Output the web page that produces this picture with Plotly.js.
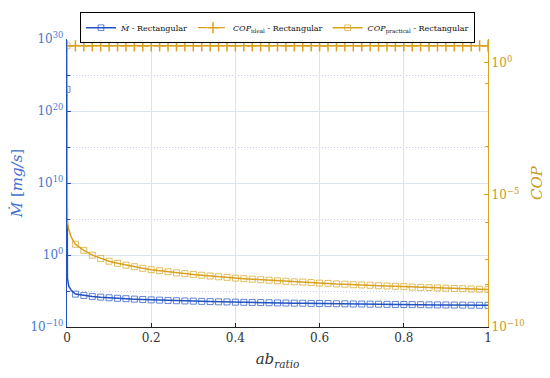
<!DOCTYPE html>
<html>
<head>
<meta charset="utf-8">
<script src="https://cdn.plot.ly/plotly-3.0.1.min.js"></script>
<style>html,body{margin:0;padding:0;background:#fff;}#chart{width:550px;height:378px;}</style>
</head>
<body>
<div id="chart"></div>
<script>
// ab_ratio sample points (markers every 0.02)
var abRatio = [0,0.02,0.04,0.06,0.08,0.10,0.12,0.14,0.16,0.18,0.20,0.22,0.24,0.26,0.28,0.30,0.32,0.34,0.36,0.38,0.40,
  0.42,0.44,0.46,0.48,0.50,0.52,0.54,0.56,0.58,0.60,0.62,0.64,0.66,0.68,0.70,0.72,0.74,0.76,0.78,0.80,
  0.82,0.84,0.86,0.88,0.90,0.92,0.94,0.96,0.98,1.00];
// extra line-only points close to zero
var abRatioFine = [0.001,0.004,0.01];

// Mass flow rate Mdot [mg/s]
var mdot = [1e23,3.72e-6,2.40e-6,1.78e-6,1.41e-6,1.15e-6,9.77e-7,8.51e-7,7.41e-7,6.61e-7,5.89e-7,
  5.37e-7,4.90e-7,4.47e-7,4.17e-7,3.89e-7,3.63e-7,3.39e-7,3.16e-7,3.02e-7,2.82e-7,
  2.69e-7,2.57e-7,2.45e-7,2.34e-7,2.24e-7,2.14e-7,2.04e-7,2.00e-7,1.91e-7,1.82e-7,
  1.78e-7,1.70e-7,1.66e-7,1.58e-7,1.55e-7,1.48e-7,1.45e-7,1.41e-7,1.35e-7,1.32e-7,
  1.29e-7,1.26e-7,1.20e-7,1.17e-7,1.15e-7,1.12e-7,1.10e-7,1.07e-7,1.05e-7,1.02e-7];
var mdotFine = [6.3e-4,5.0e-5,1.26e-5];

// COP ideal
var copIdeal = [4.4,4.4,4.4,4.4,4.4,4.4,4.4,4.4,4.4,4.4,4.4,4.4,4.4,4.4,4.4,4.4,4.4,4.4,4.4,4.4,4.4,
  4.4,4.4,4.4,4.4,4.4,4.4,4.4,4.4,4.4,4.4,4.4,4.4,4.4,4.4,4.4,4.4,4.4,4.4,4.4,4.4,
  4.4,4.4,4.4,4.4,4.4,4.4,4.4,4.4,4.4,4.4];

// COP practical
var copPractical = [4.4,1.35e-7,7.94e-8,5.25e-8,3.89e-8,3.09e-8,2.57e-8,2.19e-8,1.91e-8,1.66e-8,1.48e-8,
  1.35e-8,1.23e-8,1.12e-8,1.05e-8,9.77e-9,9.12e-9,8.51e-9,7.94e-9,7.59e-9,7.08e-9,
  6.76e-9,6.46e-9,6.17e-9,5.89e-9,5.62e-9,5.37e-9,5.13e-9,5.01e-9,4.79e-9,4.57e-9,
  4.47e-9,4.27e-9,4.17e-9,3.98e-9,3.89e-9,3.80e-9,3.63e-9,3.55e-9,3.47e-9,3.39e-9,
  3.24e-9,3.16e-9,3.09e-9,3.02e-9,2.95e-9,2.88e-9,2.82e-9,2.75e-9,2.69e-9,2.63e-9];
var copPracticalFine = [1.0e-6,5.0e-7,2.5e-7];

var leftTicks = [1e-10,1,1e10,1e20,1e30];
var leftTickText = ['10<sup>−10</sup>','10<sup>0</sup>','10<sup>10</sup>','10<sup>20</sup>','10<sup>30</sup>'];
var rightTicks = [1e-10,1e-5,1];
var rightTickText = ['10<sup>−10</sup>','10<sup>−5</sup>','10<sup>0</sup>'];
var rightMinorTicks = [0.166, 6.9e-4, 9.1e-7, 3.6e-8, 4.2e-9];

var BLUE = '#2152c4';
var GOLD = '#d9a21e';
var FONT = 'DejaVu Serif';

function merge(xs, ys, xf, yf) {
  var X = [xs[0]].concat(xf, xs.slice(1));
  var Y = [ys[0]].concat(yf, ys.slice(1));
  var S = [6].concat(xf.map(function(){return 0;}), xs.slice(1).map(function(){return 6;}));
  return {x: X, y: Y, s: S};
}
var m1 = merge(abRatio, mdot, abRatioFine, mdotFine);
var m3 = merge(abRatio, copPractical, abRatioFine, copPracticalFine);

var traces = [
  {x: m1.x, y: m1.y, yaxis: 'y', mode: 'lines+markers', name: '<i>Ṁ</i> - Rectangular',
   line: {color: BLUE, width: 1.5},
   marker: {symbol: 'square-open', size: m1.s, color: BLUE, line: {width: 1, color: BLUE}}},
  {x: abRatio, y: copIdeal, yaxis: 'y2', mode: 'lines+markers', name: '<i>COP</i><sub>ideal</sub> - Rectangular',
   line: {color: GOLD, width: 1.3, dash: 'dash'},
   marker: {symbol: 'cross-thin-open', size: 8, color: GOLD, line: {width: 1.5, color: GOLD}}},
  {x: m3.x, y: m3.y, yaxis: 'y2', mode: 'lines+markers', name: '<i>COP</i><sub>practical</sub> - Rectangular',
   line: {color: GOLD, width: 1.5},
   marker: {symbol: 'square-open', size: m3.s, color: GOLD, line: {width: 1, color: GOLD}}}
];

var layout = {
  width: 550, height: 378,
  margin: {l: 67, r: 62, t: 37, b: 51},
  paper_bgcolor: '#fff', plot_bgcolor: '#fff',
  font: {family: FONT, size: 12, color: '#222'},
  showlegend: true,
  legend: {orientation: 'h', x: 0.5, xanchor: 'center', y: 1.093, yanchor: 'top',
           bgcolor: '#fff', bordercolor: '#000', borderwidth: 1,
           font: {family: FONT, size: 8, color: '#111'}, itemwidth: 30, tracegroupgap: 0},
  xaxis: {range: [0, 1], tickvals: [0, 0.2, 0.4, 0.6, 0.8, 1], ticktext: ['0','0.2','0.4','0.6','0.8','1'],
          ticks: 'inside', ticklen: 4, tickcolor: '#222', showline: true, linecolor: '#222', linewidth: 1,
          showgrid: true, gridcolor: '#e2e2e2', zeroline: false,
          tickfont: {family: FONT, size: 12, color: '#333'},
          title: {text: '<i>ab</i><sub><i>ratio</i></sub>', font: {family: FONT, size: 15, color: '#333'}, standoff: 9}},
  yaxis: {type: 'log', range: [-10, 30], tickvals: leftTicks, ticktext: leftTickText,
          ticks: 'inside', ticklen: 4, tickcolor: BLUE, showline: true, linecolor: BLUE, linewidth: 1.2,
          showgrid: true, gridcolor: '#dce3f3', zeroline: false,
          tickfont: {family: FONT, size: 12, color: '#4a78d0'},
          minor: {tickvals: [1e-5, 1e5, 1e15, 1e25], ticks: 'inside', ticklen: 3, tickcolor: BLUE,
                  showgrid: true, griddash: '1px,2px', gridcolor: '#c3cfee', gridwidth: 1},
          title: {text: '<i>Ṁ</i> [<i>mg/s</i>]', font: {family: FONT, size: 15, color: '#3f6fd0'}, standoff: 4}},
  yaxis2: {type: 'log', overlaying: 'y', side: 'right', range: [-10, 0.9],
           tickvals: rightTicks, ticktext: rightTickText,
           ticks: 'inside', ticklen: 4, tickcolor: GOLD, showline: true, linecolor: GOLD, linewidth: 1.2,
           showgrid: false, zeroline: false,
           tickfont: {family: FONT, size: 12, color: '#c99a22'},
           minor: {tickvals: rightMinorTicks, ticks: 'inside', ticklen: 3, tickcolor: GOLD, showgrid: false},
           title: {text: '<i>COP</i>', font: {family: FONT, size: 15, color: '#c99a22'}, standoff: 8}}
};

Plotly.newPlot('chart', traces, layout, {displayModeBar: false, staticPlot: true});
</script>
</body>
</html>
